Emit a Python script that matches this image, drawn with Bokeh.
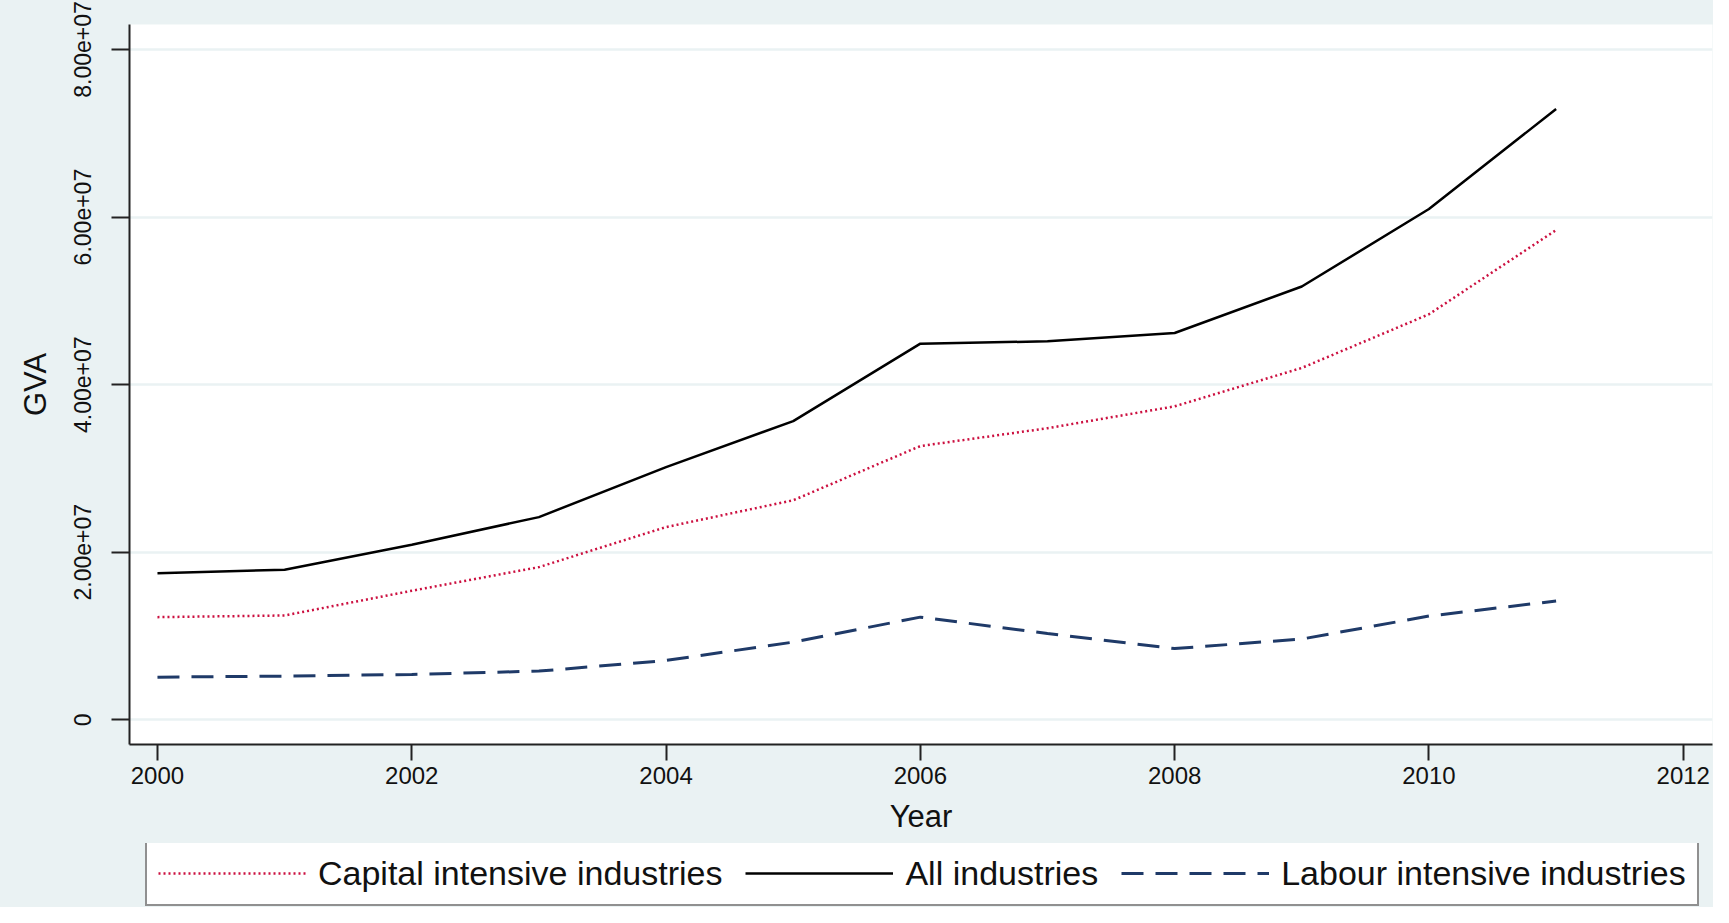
import math
from bokeh.plotting import figure
from bokeh.layouts import column
from bokeh.models import Range1d, FixedTicker, Legend, LegendItem, Label
from bokeh.embed import file_html
from bokeh.resources import INLINE

# ---- data ----
years = [2000, 2001, 2002, 2003, 2004, 2005, 2006, 2007, 2008, 2009, 2010, 2011]
capital_intensive = [1.225e7, 1.245e7, 1.54e7, 1.822e7, 2.30e7, 2.62e7, 3.267e7,
                     3.48e7, 3.741e7, 4.20e7, 4.84e7, 5.845e7]
all_industries = [1.750e7, 1.791e7, 2.09e7, 2.419e7, 3.016e7, 3.565e7, 4.489e7,
                  4.517e7, 4.617e7, 5.171e7, 6.096e7, 7.290e7]
labour_intensive = [0.509e7, 0.521e7, 0.541e7, 0.581e7, 0.708e7, 0.927e7, 1.225e7,
                    1.03e7, 0.850e7, 0.964e7, 1.238e7, 1.418e7]
series_names = ["Capital intensive industries", "All industries",
                "Labour intensive industries"]
x_ticks = [2000, 2002, 2004, 2006, 2008, 2010, 2012]
y_ticks = [0, 20000000, 40000000, 60000000, 80000000]
y_tick_labels = ["0", "2.00e+07", "4.00e+07", "6.00e+07", "8.00e+07"]
title_text = "2000-2013"
x_label = "Year"
y_label = "GVA"

BG = "#EAF2F3"
FONT = "Liberation Sans"
TOTAL_W, TOTAL_H = 1713, 907
LEG_H = 64
LEFT, RIGHT = 129, 1

styles = [
    dict(line_color="#CC1040", line_width=2.5, line_dash="2 3"),
    dict(line_color="black", line_width=2.5),
    dict(line_color="#1F3A68", line_width=3, line_dash="22 12"),
]
series = [capital_intensive, all_industries, labour_intensive]

p = figure(width=TOTAL_W, height=TOTAL_H - LEG_H, output_backend="svg",
           toolbar_location=None, title=None,
           x_range=Range1d(1999.78, 2012.23), y_range=Range1d(-2.95e6, 8.2985e7),
           min_border_left=LEFT, min_border_right=RIGHT, min_border_top=24,
           min_border_bottom=TOTAL_H - LEG_H - 744,
           background_fill_color="white", border_fill_color=BG,
           outline_line_color=None)

# axes
for ax in (p.xaxis, p.yaxis):
    ax.axis_line_color = "#222222"
    ax.axis_line_width = 2
    ax.major_tick_line_color = "#222222"
    ax.major_tick_line_width = 2
    ax.major_tick_in = 0
    ax.minor_tick_in = 0
    ax.minor_tick_out = 0
    ax.major_label_text_font = FONT
    ax.major_label_text_color = "#111111"
    ax.axis_label_text_font = FONT
    ax.axis_label_text_font_style = "normal"
    ax.axis_label_text_color = "#111111"

p.xaxis.ticker = FixedTicker(ticks=x_ticks)
p.xaxis.major_tick_out = 16
p.xaxis.major_label_text_font_size = "24px"
p.xaxis.major_label_standoff = 6
p.xaxis.axis_label = x_label
p.xaxis.axis_label_text_font_size = "31px"
p.xaxis.axis_label_standoff = 12

p.yaxis.ticker = FixedTicker(ticks=y_ticks)
p.yaxis.major_label_overrides = dict(zip(y_ticks, y_tick_labels))
p.yaxis.major_tick_out = 18
p.yaxis.major_label_text_font_size = "23px"
p.yaxis.major_label_orientation = "vertical"
p.yaxis.major_label_standoff = 20
p.yaxis.axis_label = y_label
p.yaxis.axis_label_text_font_size = "31px"
p.yaxis.axis_label_standoff = 19

p.xgrid.visible = False
p.ygrid.grid_line_color = BG
p.ygrid.grid_line_width = 2.5

for vals, st in zip(series, styles):
    p.line(years, vals, **st)

title = Label(x=791, y=738, x_units="screen", y_units="screen", text=title_text,
              text_align="center", text_baseline="alphabetic",
              text_font=FONT, text_font_size="40px", text_color="#111111")
p.add_layout(title)

# legend strip (its own small figure, legend-only hidden renderers)
pl = figure(width=TOTAL_W, height=LEG_H, output_backend="svg",
            toolbar_location=None, title=None,
            x_axis_location=None, y_axis_location=None,
            min_border_left=LEFT, min_border_right=RIGHT,
            min_border_top=0, min_border_bottom=0,
            background_fill_color=BG, border_fill_color=BG,
            outline_line_color=None)
pl.xgrid.visible = False
pl.ygrid.visible = False
leg_renderers = []
for vals, st in zip(series, styles):
    r = pl.line(years, vals, **st)
    r.visible = False
    leg_renderers.append(r)

legend = Legend(
    items=[LegendItem(label=n, renderers=[r])
           for n, r in zip(series_names, leg_renderers)],
    orientation="horizontal", location=(16, 1),
    border_line_color="#222222", border_line_width=2,
    background_fill_color="white", background_fill_alpha=1.0,
    label_text_font=FONT, label_text_font_size="34px", label_text_color="#111111",
    glyph_width=148, glyph_height=20, label_standoff=12, spacing=23,
    padding=11, margin=0, label_height=40,
    inactive_fill_alpha=0.0,
)
pl.add_layout(legend)

layout = column(p, pl, spacing=0, styles={"background-color": BG})
open("out.html", "w").write(file_html(layout, INLINE))
